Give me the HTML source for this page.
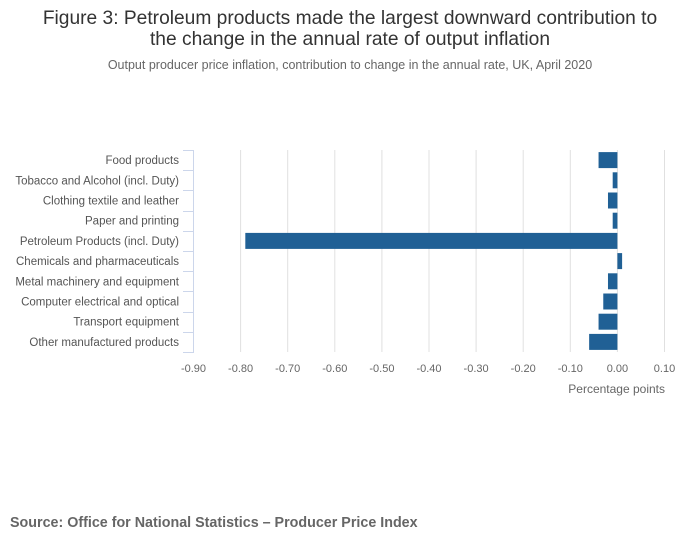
<!DOCTYPE html>
<html><head><meta charset="utf-8"><style>
body{margin:0;background:#fff;font-family:"Liberation Sans",sans-serif;}
</style></head><body>
<svg width="700" height="549" xmlns="http://www.w3.org/2000/svg">
<text x="350" y="24" text-anchor="middle" font-size="19.2" fill="#333">Figure 3: Petroleum products made the largest downward contribution to</text>
<text x="350" y="45" text-anchor="middle" font-size="19.2" fill="#333">the change in the annual rate of output inflation</text>
<text x="350" y="69" text-anchor="middle" font-size="12.5" fill="#666">Output producer price inflation, contribution to change in the annual rate, UK, April 2020</text>
<g id="plot"></g>
<text x="665" y="393" text-anchor="end" font-size="12" fill="#666">Percentage points</text>
<text x="10" y="527" font-size="14.3" font-weight="bold" fill="#666">Source: Office for National Statistics – Producer Price Index</text>
</svg>
<script>
const categories=["Food products","Tobacco and Alcohol (incl. Duty)","Clothing textile and leather","Paper and printing","Petroleum Products (incl. Duty)","Chemicals and pharmaceuticals","Metal machinery and equipment","Computer electrical and optical","Transport equipment","Other manufactured products"];
const values=[-0.04,-0.01,-0.02,-0.01,-0.79,0.01,-0.02,-0.03,-0.04,-0.06];
const ticks=[-0.9,-0.8,-0.7,-0.6,-0.5,-0.4,-0.3,-0.2,-0.1,0,0.1];
const tickLabels=["-0.90","-0.80","-0.70","-0.60","-0.50","-0.40","-0.30","-0.20","-0.10","0.00","0.10"];
(function(){
const NS="http://www.w3.org/2000/svg";
const g=document.getElementById('plot');
const x0=193.5,x1=664.5,vmin=-0.9,vmax=0.1,yTop=150,yBot=352;
const xs=v=>x0+(v-vmin)/(vmax-vmin)*(x1-x0);
const band=(yBot-yTop)/categories.length;
function mk(t,a){const e=document.createElementNS(NS,t);for(const k in a)e.setAttribute(k,a[k]);g.appendChild(e);return e;}
ticks.forEach((t,i)=>{
  if(i>0){const l=mk('line',{x1:xs(t),x2:xs(t),y1:yTop,y2:yBot,stroke:'#e0e0e0','stroke-width':1});
  
  }
  const tx=mk('text',{x:xs(t),y:372,'text-anchor':'middle','font-size':11,fill:'#666'});
  tx.textContent=tickLabels[i];
  
  
});
const ax=mk('line',{x1:193.5,x2:193.5,y1:yTop,y2:yBot,stroke:'#ccd6eb','stroke-width':1});


for(let i=0;i<=categories.length;i++){
  const y=Math.round(yTop+i*band)+0.5;
  const tk=mk('line',{x1:183,x2:194,y1:y,y2:y,stroke:'#ccd6eb','stroke-width':1});
  
  
}
categories.forEach((c,i)=>{
  const cy=yTop+(i+0.5)*band;
  const t=mk('text',{x:179,y:cy+4,'text-anchor':'end','font-size':11.5,fill:'#555'});
  t.textContent=c;
  
  
  const v=values[i],a=xs(Math.min(v,0)),b=xs(Math.max(v,0));
  const r=mk('rect',{x:a,y:cy-8,width:b-a,height:16,fill:'#206095'});
  
  
});
})();
</script>
</body></html>
